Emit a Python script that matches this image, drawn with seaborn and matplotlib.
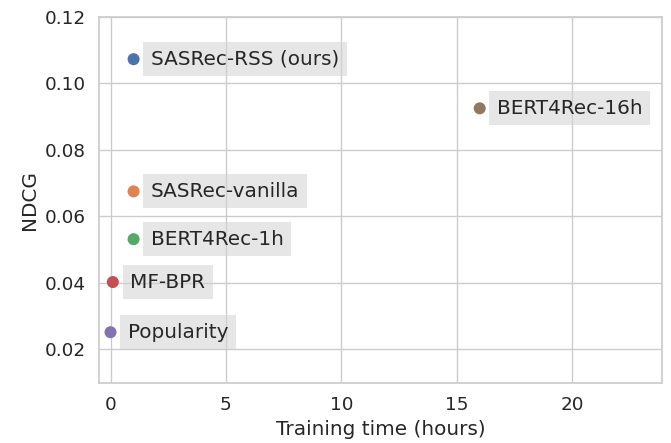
import matplotlib
matplotlib.use('Agg')
import matplotlib.pyplot as plt
import seaborn as sns
import pandas as pd

models = ['SASRec-RSS (ours)', 'SASRec-vanilla', 'BERT4Rec-1h', 'MF-BPR', 'Popularity', 'BERT4Rec-16h']
train_hours = [1.0, 1.0, 1.0, 0.1, 0.0, 16.0]
ndcg = [0.1073, 0.0675, 0.0531, 0.0402, 0.0251, 0.0925]

sns.set_theme(style='whitegrid', font_scale=1.2)
plt.rcParams['font.family'] = ['DejaVu Sans']

df = pd.DataFrame({'model': models, 'hours': train_hours, 'ndcg': ndcg})

fig, ax = plt.subplots(figsize=(6.71, 4.43), dpi=100)
sns.scatterplot(data=df, x='hours', y='ndcg', hue='model', hue_order=models,
                s=75, edgecolor='none', legend=False, ax=ax)

for m, x, y in zip(models, train_hours, ndcg):
    ax.text(x + 0.75, y, m, va='center', fontsize=14.4,
            bbox=dict(facecolor='lightgray', alpha=0.55, edgecolor='none', pad=5.5))

ax.set_xlim(-0.5, 23.9)
ax.set_ylim(0.0098, 0.12)
ax.set_xticks([0, 5, 10, 15, 20])
ax.set_xlabel('Training time (hours)')
ax.set_ylabel('NDCG')

fig.subplots_adjust(left=0.1475, right=0.9866, top=0.9616, bottom=0.1354)
plt.savefig('out.png')
